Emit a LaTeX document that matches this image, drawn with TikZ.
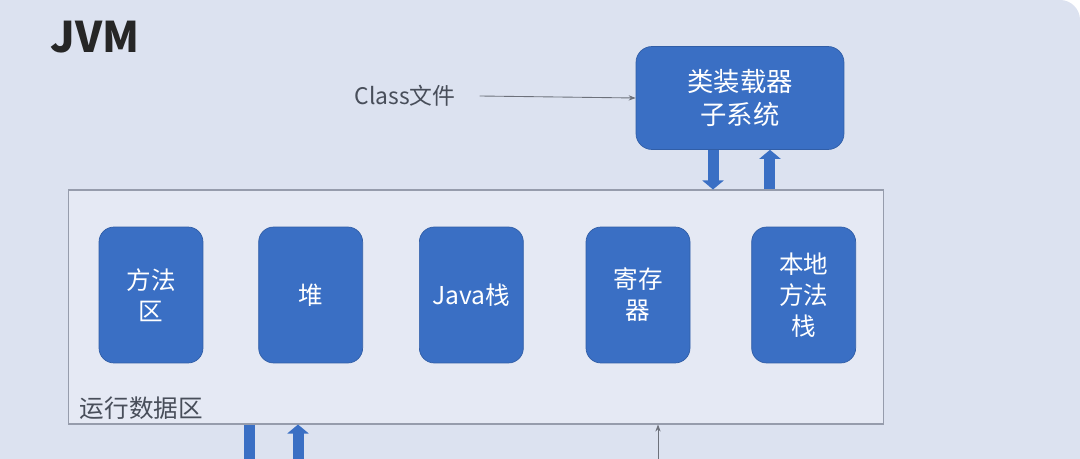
\documentclass[tikz,border=0pt]{standalone}
\usepackage{fontspec}
\usepackage{tikz}
\usetikzlibrary{positioning,arrows.meta}
\newfontfamily\cjk{Noto Sans CJK SC}
\definecolor{pagebg}{RGB}{220,226,240}
\definecolor{areabg}{RGB}{229,233,244}
\definecolor{arealine}{RGB}{150,156,172}
\definecolor{boxblue}{RGB}{58,111,196}
\definecolor{labelgray}{RGB}{72,78,90}

\begin{document}
\begin{tikzpicture}[x=0.02cm, y=-0.02cm,
  part/.style={draw=boxblue!85!black, fill=boxblue, rounded corners=0.3cm, align=center, text=white, font=\cjk\fontsize{14}{17.6}\selectfont, minimum width=2.08cm, minimum height=2.72cm, inner sep=0pt},
  loaderbox/.style={draw=boxblue!85!black, fill=boxblue, rounded corners=0.32cm, align=center, text=white, font=\cjk\fontsize{15}{18.5}\selectfont, minimum width=4.16cm, minimum height=2.06cm},
  area/.style={draw=arealine, fill=areabg, line width=0.6pt, minimum width=16.32cm, minimum height=4.68cm, inner sep=0pt},
  fat/.style={draw=boxblue, line width=0.22cm, -{Triangle[width=0.42cm,length=0.18cm]}},
  thin/.style={draw=labelgray!80, line width=0.5pt, -{Stealth[length=4pt,width=3pt]}}]
\fill[white] (0,0) rectangle (1080,459);
\fill[pagebg] (0,459) -- (0,0) [rounded corners=0.4cm] -- (1080,0) [sharp corners] -- (1080,459) -- cycle;
\useasboundingbox (0,0) rectangle (1080,459);
\node[anchor=base west, font=\cjk\bfseries\fontsize{24}{28}\selectfont, text=black!85, inner sep=0pt] (title) at (50,53) {JVM};
\node[font=\cjk\fontsize{13}{16}\selectfont, text=labelgray] (classfile) at (405,96) {Class文件};
\node[loaderbox] (loader) at (740,98) {类装载器\\子系统};
\node[area] (runtime) at (476,307) {};
\node[anchor=south west, font=\cjk\fontsize{14}{17}\selectfont, text=labelgray, inner sep=0pt] (rtlabel) at ([xshift=0.24cm, yshift=0.1cm]runtime.south west) {运行数据区};
% the five memory areas
\node[part] (method) at (151,295) {方法\\区};
\node[part, right=1.1cm of method] (heap) {堆};
\node[part, right=1.12cm of heap] (jstack) {Java栈};
\node[part, right=1.24cm of jstack] (register) {寄存\\器};
\node[part, right=1.22cm of register] (native) {本地\\方法\\栈};
\draw[thin] ([xshift=0.36cm]classfile.east) -- (loader.west);
\draw[fat] ([xshift=-0.54cm]loader.south) -- ([xshift=-0.54cm]loader.south |- runtime.north);
\draw[fat] ([xshift=0.6cm]loader.south |- runtime.north) -- ([xshift=0.6cm]loader.south);
% links leaving the bottom edge
\coordinate (outa) at (249,470);
\coordinate (outb) at (298,470);
\coordinate (outc) at (658,470);
\draw[fat] (outa |- runtime.south) -- (outa);
\draw[fat] (outb) -- (outb |- runtime.south);
\draw[thin] (outc) -- (outc |- runtime.south);
\end{tikzpicture}
\end{document}
